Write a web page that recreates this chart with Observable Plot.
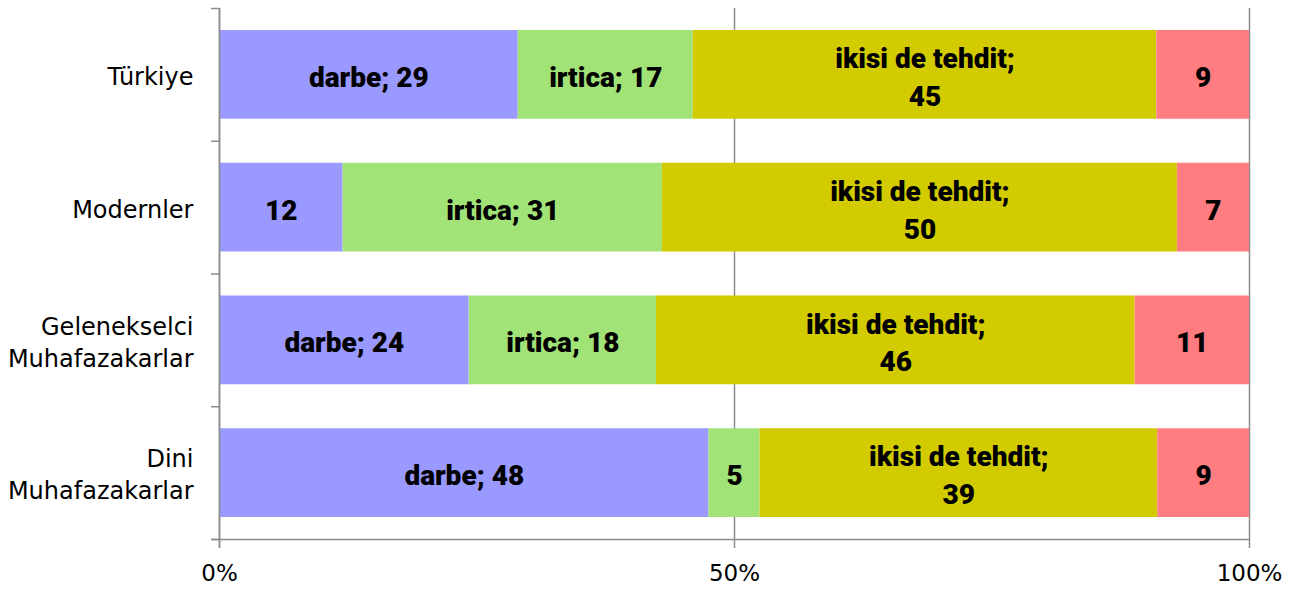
<!DOCTYPE html>
<html>
<head>
<meta charset="utf-8">
<script src="https://cdn.jsdelivr.net/npm/d3@7"></script>
<script src="https://cdn.jsdelivr.net/npm/@observablehq/plot@0.6"></script>
<style>
  html, body { margin: 0; padding: 0; background: #fff; }
</style>
</head>
<body>
<div id="chart"></div>
<script>
const categories = ["Türkiye", "Modernler", "Gelenekselci Muhafazakarlar", "Dini Muhafazakarlar"];
const categoryLabels = ["Türkiye", "Modernler", "Gelenekselci\nMuhafazakarlar", "Dini\nMuhafazakarlar"];
const seriesNames = ["darbe", "irtica", "ikisi de tehdit", "diğer"];
const seriesColors = ["#9999FF", "#A2E378", "#D2CB00", "#FF7C80"];
const darbe = [29, 12, 24, 48];
const irtica = [17, 31, 18, 5];
const ikisi = [45, 50, 46, 39];
const diger = [9, 7, 11, 9];
// whether the series name is shown in the segment label
const showDarbe = [true, false, true, true];
const showIrtica = [true, true, true, false];
const showIkisi = [true, true, true, true];
const showDiger = [false, false, false, false];
const xTicks = [0, 0.5, 1];

const seriesValues = [darbe, irtica, ikisi, diger];
const seriesShow = [showDarbe, showIrtica, showIkisi, showDiger];

const table = categories.map((c, i) => {
  const o = {category: c, i};
  seriesNames.forEach((s, k) => o[s] = seriesValues[k][i]);
  return o;
});
const stacked = d3.stack().keys(seriesNames).offset(d3.stackOffsetExpand)(table);
const rows = [];
stacked.forEach((layer, k) => {
  layer.forEach((seg, i) => {
    const v = seriesValues[k][i];
    const name = seriesNames[k];
    let label = String(v);
    if (seriesShow[k][i]) label = name + ";" + (name === "ikisi de tehdit" ? "\n" : " ") + v;
    rows.push({series: name, i, x1: seg[0], x2: seg[1], value: v, label});
  });
});

const bounds = d3.range(categories.length + 1);
const grid = "#8c8c8c";

const chart = Plot.plot({
  width: 1305,
  height: 591,
  marginLeft: 219,
  marginRight: 56,
  marginTop: 8,
  marginBottom: 52,
  style: {fontFamily: "'Liberation Sans', Arial, sans-serif", fontSize: "22px", color: "#000", background: "#fff"},
  x: {domain: [0, 1], axis: null},
  y: {domain: [categories.length, 0], axis: null},
  color: {domain: seriesNames, range: seriesColors},
  marks: [
    Plot.ruleX(xTicks, {stroke: grid, strokeWidth: 1.5, insetBottom: -9}),
    Plot.rectX(rows, {x1: "x1", x2: "x2", y1: d => d.i, y2: d => d.i + 1, fill: "series", insetTop: 22, insetBottom: 22}),
    Plot.ruleY(bounds, {y: d => d, x1: 0, x2: 0, insetLeft: -8, stroke: grid, strokeWidth: 1.5}),
    Plot.ruleY([categories.length], {stroke: grid, strokeWidth: 1.5, insetLeft: -8}),
    Plot.ruleX([0], {stroke: grid, strokeWidth: 1.5, insetBottom: -9}),
    Plot.text(rows, {x: d => (d.x1 + d.x2) / 2, y: d => d.i + 0.5, text: "label", fontFamily: "Roboto, sans-serif", fontWeight: 900, fontSize: 28, lineHeight: 1.35, fill: "#000"}),
    Plot.text(categoryLabels, {x: 0, y: (d, i) => i + 0.5, text: d => d, textAnchor: "end", dx: -26, fontFamily: "'DejaVu Sans', sans-serif", fontSize: 24, lineHeight: 1.33, fill: "#000"}),
    Plot.text(xTicks, {x: d => d, frameAnchor: "bottom", dy: 41, text: d => Math.round(d * 100) + "%", fontFamily: "'DejaVu Sans', sans-serif", fontSize: 23, fill: "#000"})
  ]
});
document.getElementById("chart").appendChild(chart);
</script>
</body>
</html>
